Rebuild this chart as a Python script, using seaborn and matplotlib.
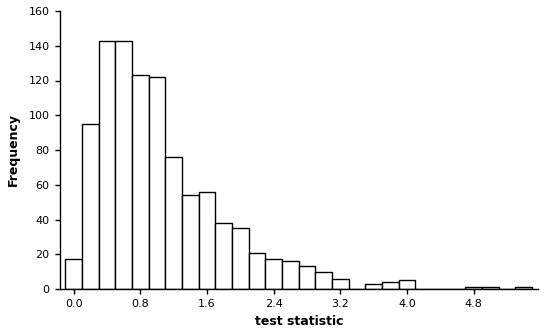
import numpy as np
import pandas as pd
import matplotlib
matplotlib.use("Agg")
import matplotlib.pyplot as plt
import seaborn as sns

# Bin centers (test statistic) and frequencies
bin_centers = [0.0, 0.2, 0.4, 0.6, 0.8, 1.0, 1.2, 1.4, 1.6, 1.8, 2.0, 2.2,
               2.4, 2.6, 2.8, 3.0, 3.2, 3.4, 3.6, 3.8, 4.0, 4.2, 4.4, 4.6,
               4.8, 5.0, 5.2, 5.4]
frequencies = [17, 95, 143, 143, 123, 122, 76, 54, 56, 38, 35, 21,
               17, 16, 13, 10, 6, 0, 3, 4, 5, 0, 0, 0,
               1, 1, 0, 1]
x_ticks = [0.0, 0.8, 1.6, 2.4, 3.2, 4.0, 4.8]
x_tick_labels = ["0.0", "0.8", "1.6", "2.4", "3.2", "4.0", "4.8"]
y_ticks = [0, 20, 40, 60, 80, 100, 120, 140, 160]

df = pd.DataFrame({"stat": bin_centers, "freq": frequencies})
edges = [round(c - 0.1, 3) for c in bin_centers] + [round(bin_centers[-1] + 0.1, 3)]

sns.set_style("ticks")
plt.rcParams["font.family"] = ["DejaVu Sans"]
plt.rcParams["text.color"] = "black"
plt.rcParams["axes.labelcolor"] = "black"

fig = plt.figure(figsize=(5.56, 3.30), dpi=100)
ax = fig.add_axes([60/556, 1 - 289/330, (538 - 60)/556, (289 - 11)/330])

sns.histplot(data=df, x="stat", weights="freq", bins=edges, ax=ax,
             color="white", edgecolor="black", linewidth=1.0, alpha=1.0)

ax.set_xlim(-0.165, 5.57)
ax.set_ylim(0, 160)
ax.set_xticks(x_ticks)
ax.set_xticklabels(x_tick_labels)
ax.set_yticks(y_ticks)
ax.tick_params(axis="both", direction="out", length=3.5, width=1, colors="black",
               labelcolor="black", labelsize=8, pad=4)
for s in ["top", "right"]:
    ax.spines[s].set_visible(False)
for s in ["left", "bottom"]:
    ax.spines[s].set_color("black")
    ax.spines[s].set_linewidth(1.0)

ax.set_xlabel("test statistic", fontsize=9, fontweight="bold", labelpad=4, color="black")
ax.set_ylabel("Frequency", fontsize=9, fontweight="bold", labelpad=6, color="black")

fig.savefig("out.png", dpi=100)
